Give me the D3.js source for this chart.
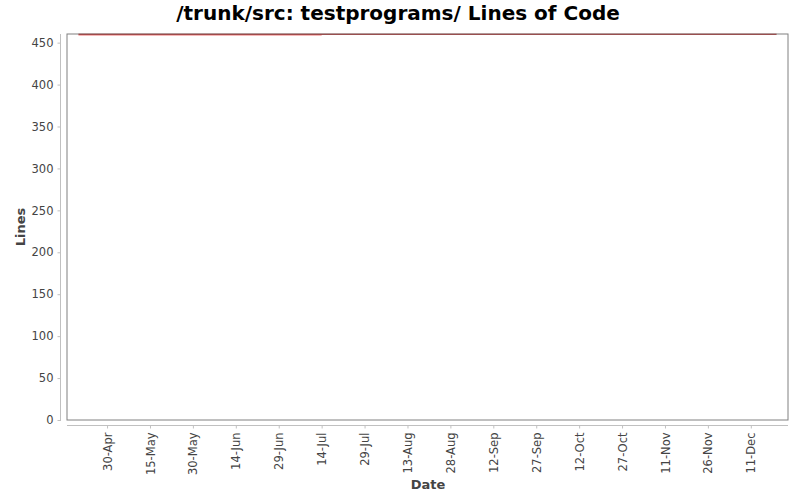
<!DOCTYPE html>
<html>
<head>
<meta charset="utf-8">
<script src="https://cdn.jsdelivr.net/npm/d3@7"></script>
<style>
  body { margin: 0; background: #fff; }
  svg { font-family: "DejaVu Sans", sans-serif; }
</style>
</head>
<body>
<script>
// Data
var locDates = ["2007-04-20", "2007-07-14", "2007-12-20"];
var locValues = [460, 460, 460];
var shadeDates = ["2007-04-20", "2007-07-14"];
var shadeValues = [459, 459];
var tickLabels = ["30-Apr", "15-May", "30-May", "14-Jun", "29-Jun", "14-Jul", "29-Jul",
  "13-Aug", "28-Aug", "12-Sep", "27-Sep", "12-Oct", "27-Oct", "11-Nov", "26-Nov", "11-Dec"];
var yTicks = [0, 50, 100, 150, 200, 250, 300, 350, 400, 450];

let w = 800;
let h = 500;
let plotLeft = 67, plotRight = 788, plotTop = 34, plotBottom = 420;

var parse = d3.timeParse("%Y-%m-%d");
var parseTick = d3.timeParse("%d-%b-%Y");
var tickDates = tickLabels.map(function(t){ return parseTick(t + "-2007"); });

var svg = d3.select("body")
  .append("svg")
  .attr("width", w)
  .attr("height", h);

// Scales
let xScale = d3.scaleTime()
  .domain([parse("2007-04-16"), parse("2007-12-24")])
  .range([plotLeft, plotRight]);

let yScale = d3.scaleLinear()
  .domain([0, 460.3])
  .range([plotBottom, plotTop]);

// Title
svg.append("text")
  .attr("x", 398)
  .attr("y", 20)
  .attr("text-anchor", "middle")
  .attr("font-size", "20px")
  .attr("font-weight", "bold")
  .attr("fill", "#000")
  .text("/trunk/src: testprograms/ Lines of Code");

// Plot box
svg.append("rect")
  .attr("x", plotLeft)
  .attr("y", plotTop)
  .attr("width", plotRight - plotLeft)
  .attr("height", plotBottom - plotTop)
  .attr("fill", "#fff")
  .attr("stroke", "#808080")
  .attr("stroke-width", 1);

// Axes
let yAxis = d3.axisLeft(yScale)
  .tickValues(yTicks)
  .tickSize(3)
  .tickPadding(4);

let xAxis = d3.axisBottom(xScale)
  .tickValues(tickDates)
  .tickFormat(function(d, i){ return tickLabels[i]; })
  .tickSize(3)
  .tickPadding(4);

var gy = svg.append("g")
  .attr("transform", "translate(60.5,0)")
  .call(yAxis);

var gx = svg.append("g")
  .attr("transform", "translate(0,425.5)")
  .call(xAxis);

[gx, gy].forEach(function(g){
  g.select(".domain").attr("stroke", "#c0c0c0");
  g.selectAll(".tick line").attr("stroke", "#c0c0c0");
  g.selectAll(".tick text")
    .attr("fill", "#444")
    .attr("font-size", "11.5px")
    .attr("font-family", "DejaVu Sans, sans-serif");
});

gy.select(".domain").attr("d", "M0," + plotTop + "V" + (plotBottom + 1));
gx.select(".domain").attr("d", "M" + plotLeft + ",0H" + plotRight);

gx.selectAll(".tick text")
  .attr("text-anchor", "end")
  .attr("transform", "rotate(-90)")
  .attr("x", -7)
  .attr("y", 0)
  .attr("dy", "0.35em");

// Axis titles
svg.append("text")
  .attr("transform", "translate(25," + ((plotTop + plotBottom) / 2) + ") rotate(-90)")
  .attr("text-anchor", "middle")
  .attr("font-size", "13px")
  .attr("font-weight", "bold")
  .attr("fill", "#444")
  .text("Lines");

svg.append("text")
  .attr("x", 428)
  .attr("y", 489)
  .attr("text-anchor", "middle")
  .attr("font-size", "13px")
  .attr("font-weight", "bold")
  .attr("fill", "#444")
  .text("Date");

// Lines
var line = d3.line()
  .x(function(d){ return xScale(d[0]); })
  .y(function(d){ return yScale(d[1]); });

svg.append("path")
  .datum(shadeDates.map(function(d, i){ return [parse(d), shadeValues[i]]; }))
  .attr("d", line)
  .attr("fill", "none")
  .attr("stroke", "#f4a0a0")
  .attr("stroke-width", 1.2);

svg.append("path")
  .datum(locDates.map(function(d, i){ return [parse(d), locValues[i]]; }))
  .attr("d", line)
  .attr("fill", "none")
  .attr("stroke", "#8c2a2a")
  .attr("stroke-width", 1.2);
</script>
</body>
</html>
